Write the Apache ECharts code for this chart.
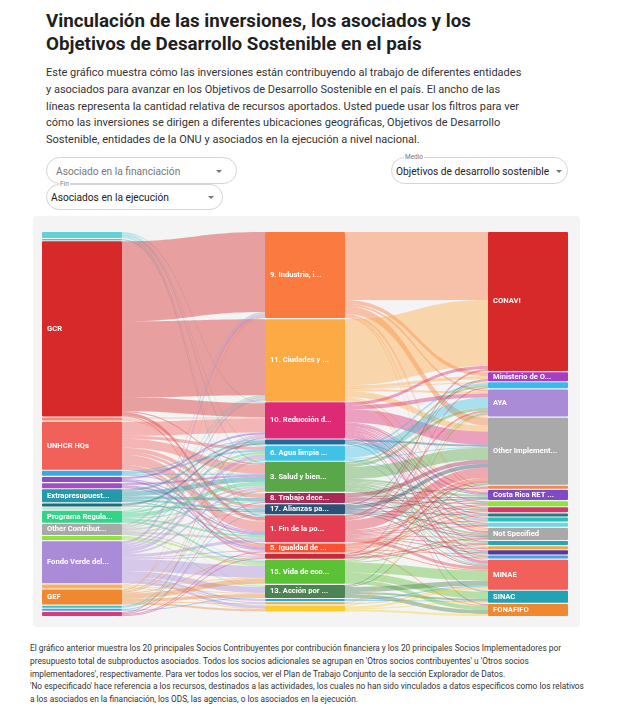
<!DOCTYPE html>
<html>
<head>
<meta charset="utf-8">
<script src="https://cdn.jsdelivr.net/npm/echarts@6/dist/echarts.min.js"></script>
<style>
  html, body { margin: 0; padding: 0; background: #fff; width: 625px; height: 710px; overflow: hidden; font-family: Roboto, "Noto Sans", sans-serif; }
  .abs { position: absolute; }
  #title { left: 46px; top: 10px; font-size: 18.8px; font-weight: 700; line-height: 23px; color: #1f1f1f; white-space: nowrap; }
  #desc { left: 46px; top: 65px; font-size: 11px; line-height: 16.75px; color: #333; white-space: nowrap; }
  .dd { position: absolute; border: 1px solid #d4d4d4; border-radius: 14px; box-sizing: border-box; background: transparent; }
  .dd .txt { position: absolute; top: 50%; transform: translateY(-50%); font-size: 10.2px; white-space: nowrap; }
  .dd .arrow { position: absolute; top: 50%; margin-top: -1px; width: 0; height: 0; border-left: 3px solid transparent; border-right: 3px solid transparent; border-top: 3px solid #777; }
  .dd .lab { position: absolute; top: -5px; font-size: 6.5px; color: #777; background: #fff; padding: 0 1px; line-height: 8px; }
  #panel { left: 33px; top: 216px; width: 547px; height: 411px; background: #f4f4f4; border-radius: 4px; }
  #foot { left: 30px; top: 642px; font-size: 8.3px; line-height: 12.75px; color: #333; white-space: nowrap; }
</style>
</head>
<body>
<div id="title" class="abs">Vinculación de las inversiones, los asociados y los<br>Objetivos de Desarrollo Sostenible en el país</div>
<div id="desc" class="abs">Este gráfico muestra cómo las inversiones están contribuyendo al trabajo de diferentes entidades<br>y asociados para avanzar en los Objetivos de Desarrollo Sostenible en el país. El ancho de las<br>líneas representa la cantidad relativa de recursos aportados. Usted puede usar los filtros para ver<br>cómo las inversiones se dirigen a diferentes ubicaciones geográficas, Objetivos de Desarrollo<br>Sostenible, entidades de la ONU y asociados en la ejecución a nivel nacional.</div>

<div class="dd" style="left:46px;top:157px;width:191px;height:27px;">
  <div class="txt" style="left:9px;color:#777;">Asociado en la financiación</div>
  <div class="arrow" style="left:169px;"></div>
</div>
<div class="dd" style="left:46px;top:184px;width:177px;height:26px;">
  <div class="lab" style="left:12px;">Fin</div>
  <div class="txt" style="left:4px;color:#222;">Asociados en la ejecución</div>
  <div class="arrow" style="left:161px;"></div>
</div>
<div class="dd" style="left:391px;top:157px;width:177px;height:27px;">
  <div class="lab" style="left:12px;">Medio</div>
  <div class="txt" style="left:4px;color:#222;">Objetivos de desarrollo sostenible</div>
  <div class="arrow" style="left:164px;"></div>
</div>

<div id="panel" class="abs"></div>
<div id="foot" class="abs">El gráfico anterior muestra los 20 principales Socios Contribuyentes por contribución financiera y los 20 principales Socios Implementadores por<br>presupuesto total de subproductos asociados. Todos los socios adicionales se agrupan en 'Otros socios contribuyentes' u 'Otros socios<br>implementadores', respectivamente. Para ver todos los socios, ver el Plan de Trabajo Conjunto de la sección Explorador de Datos.<br>'No especificado' hace referencia a los recursos, destinados a las actividades, los cuales no han sido vinculados a datos específicos como los relativos<br>a los asociados en la financiación, los ODS, las agencias, o los asociados en la ejecución.</div>

<script>
// ---- Data ----
const contributors = [
  'Socio contribuyente 1', 'Socio contribuyente 2', 'GCR', 'Socio contribuyente 3', 'UNHCR HQs',
  'Socio contribuyente 4', 'Socio contribuyente 5', 'Socio contribuyente 6', 'Extrapresupuestario',
  'Socio contribuyente 7', 'Socio contribuyente 8', 'Programa Regular', 'Other Contributors',
  'Socio contribuyente 9', 'Fondo Verde del Clima', 'Socio contribuyente 10', 'GEF',
  'Socio contribuyente 11', 'Socio contribuyente 12', 'Socio contribuyente 13'
];
const sdgs = [
  '9. Industria, innovación e infraestructura', '11. Ciudades y comunidades sostenibles',
  '10. Reducción de las desigualdades', '16. Paz, justicia e instituciones sólidas',
  '6. Agua limpia y saneamiento', '3. Salud y bienestar', '8. Trabajo decente y crecimiento económico',
  '17. Alianzas para lograr los objetivos', '1. Fin de la pobreza', '5. Igualdad de género',
  '4. Educación de calidad', '15. Vida de ecosistemas terrestres', '13. Acción por el clima',
  '14. Vida submarina', '2. Hambre cero', '7. Energía asequible y no contaminante'
];
const implementers = [
  'CONAVI', 'Ministerio de Obras Públicas y Transportes', 'Socio implementador 1', 'AYA',
  'Other Implementing Partners', 'Socio implementador 2', 'Costa Rica RET Office', 'Socio implementador 3',
  'Socio implementador 4', 'Socio implementador 5', 'Socio implementador 6', 'Socio implementador 7',
  'Not Specified', 'Socio implementador 8', 'Socio implementador 9', 'Socio implementador 10',
  'Socio implementador 11', 'MINAE', 'SINAC', 'FONAFIFO'
];
// [contributor index, SDG index, amount]
const fundingLinks = [
  [0,5,2],[0,2,1],[0,8,1],[0,4,1],[0,7,1],
  [1,8,1],
  [2,0,80],[2,1,76],[2,2,14],[2,8,3],[2,5,1],[2,9,1],
  [3,2,1],[3,8,1],[3,6,1],
  [4,2,14],[4,8,10],[4,5,9],[4,6,4],[4,9,3],[4,7,3],[4,10,2],[4,4,3],
  [5,4,2],[5,5,1],[5,3,1],[5,7,1],
  [6,2,2],[6,9,2],[6,8,1],
  [7,5,2],[7,8,2],[7,9,1],
  [8,5,5],[8,6,3],[8,3,2],[8,7,2],[8,8,1],
  [9,3,2],[9,7,1],
  [10,11,1],[10,12,1],
  [11,5,4],[11,4,2],[11,11,2],[11,6,1],[11,1,1],[11,8,2],
  [12,1,2],[12,0,2],[12,5,2],[12,8,2],[12,2,1],[12,11,1],[12,7,1],
  [13,11,2],[13,4,1],[13,12,1],
  [14,11,12],[14,12,6],[14,4,4],[14,0,3],[14,1,2],[14,15,3],[14,8,3],[14,2,2],[14,13,2],[14,14,1],[14,5,2],[14,10,1],[14,9,1],
  [15,12,1],[15,11,1],[15,15,1],[15,1,1],
  [16,11,5],[16,12,3],[16,0,1],[16,15,2],[16,4,1],[16,14,1],[16,5,1],[16,10,1],
  [17,4,1],[17,5,1],
  [18,12,1],[18,7,1],
  [19,2,1],[19,9,1],[19,6,1],[19,10,1]
];
// [SDG index, implementer index, amount]
const deliveryLinks = [
  [0,0,68],[0,4,8],[0,1,4],[0,3,2],[0,12,1],[0,6,1],[0,5,1],[0,17,1],
  [1,0,66],[1,4,6],[1,1,3],[1,3,2],[1,12,2],[1,6,1],[1,2,1],[1,14,1],
  [2,0,3],[2,4,13],[2,5,1],[2,3,4],[2,6,2],[2,12,2],[2,8,1],[2,19,1],[2,11,1],[2,13,1],[2,16,1],[2,15,1],[2,17,3],[2,10,1],[2,7,1],
  [3,4,2],[3,6,1],[3,9,1],[3,18,1],
  [4,3,10],[4,2,2],[4,4,1],[4,17,1],[4,10,1],
  [5,4,12],[5,3,3],[5,2,2],[5,12,2],[5,6,2],[5,8,1],[5,10,1],[5,11,1],[5,13,1],[5,16,1],[5,7,1],[5,17,1],[5,15,1],[5,14,1],
  [6,4,4],[6,8,1],[6,6,1],[6,12,1],[6,5,1],[6,7,1],[6,17,1],
  [7,4,4],[7,9,1],[7,12,1],[7,6,1],[7,15,1],[7,11,1],[7,1,1],
  [8,0,2],[8,4,10],[8,3,2],[8,6,1],[8,8,1],[8,12,1],[8,7,1],[8,17,3],[8,13,1],[8,16,1],[8,11,1],[8,10,1],[8,1,1],[8,14,1],
  [9,4,3],[9,8,1],[9,15,1],[9,7,1],[9,17,1],[9,9,1],[9,19,1],
  [10,4,2],[10,12,1],[10,13,1],[10,2,1],
  [11,17,10],[11,18,7],[11,19,4],[11,3,1],[11,12,1],[11,4,1],
  [12,17,5],[12,19,4],[12,18,2],[12,4,1],[12,3,1],
  [13,18,1],[13,17,1],
  [14,17,1],[14,3,1],
  [15,19,2],[15,17,2],[15,18,1],[15,3,1]
];

// ---- Styles ----
const contributorColors = ['#62d0d7','#3aa8a8','#d7282a','#f28a72','#f2605a','#3ca7e0','#8a4fc7','#a34fc4','#2699a8','#1d6e78',
  '#b8e0d2','#34d389','#a9a9a9','#8fe33c','#a98bd8','#f7b25e','#ef8830','#35c3cf','#4aa3e3','#d83a7c'];
const sdgColors = ['#fb7a40','#fdaa45','#de2a74','#1e6a9a','#3ec3e6','#5aa64a','#a82a55','#2a5275','#e43d52','#fd4f33',
  '#c8283e','#5cc235','#4b8452','#2aa4de','#e4ad48','#fbcc2e'];
const implementerColors = ['#d7282a','#a43ec4','#3cb9ea','#a98bd8','#a9a9a9','#ef8a55','#7d4bc8','#8fe33c','#d43a68','#237c7c',
  '#2dbdbd','#70d6e2','#a9a9a9','#26a6b6','#f2a843','#553c9a','#45a3e6','#f2605a','#22a2b2','#ef8830'];

const panel = document.getElementById('panel');
const chart = echarts.init(panel, null, { renderer: 'canvas', width: 547, height: 411 });

const totals = {};
function add(n, v) { totals[n] = (totals[n] || 0) + v; }
const links = [];
fundingLinks.forEach(([s, t, v]) => { links.push({ source: contributors[s], target: sdgs[t], value: v }); add(contributors[s], v); });
const sdgIn = {};
fundingLinks.forEach(([s, t, v]) => { sdgIn[sdgs[t]] = (sdgIn[sdgs[t]] || 0) + v; });
deliveryLinks.forEach(([s, t, v]) => { links.push({ source: sdgs[s], target: implementers[t], value: v }); add(implementers[t], v); });
sdgs.forEach(n => { totals[n] = sdgIn[n] || 0; });

function mkNodes(names, colors) {
  return names.map((n, i) => ({
    name: n,
    itemStyle: { color: colors[i] },
    label: { show: (totals[n] || 0) >= 8 }
  }));
}
const nodes = [].concat(mkNodes(contributors, contributorColors), mkNodes(sdgs, sdgColors), mkNodes(implementers, implementerColors));

chart.setOption({
  animation: false,
  series: [{
    type: 'sankey',
    left: 9, top: 16, width: 526, height: 384,
    nodeWidth: 80,
    nodeGap: 1.15,
    layoutIterations: 0,
    draggable: false,
    data: nodes,
    links: links,
    itemStyle: { borderWidth: 0, borderRadius: 1 },
    lineStyle: { color: 'source', opacity: 0.42, curveness: 0.5 },
    label: {
      position: 'insideLeft', distance: 5, color: '#fff', fontSize: 7.6, fontWeight: 'bold',
      fontFamily: 'Roboto',
      formatter: p => p.name.length > 15 ? p.name.slice(0, 15) + '...' : p.name
    },
    emphasis: { disabled: true }
  }]
});
</script>
</body>
</html>
